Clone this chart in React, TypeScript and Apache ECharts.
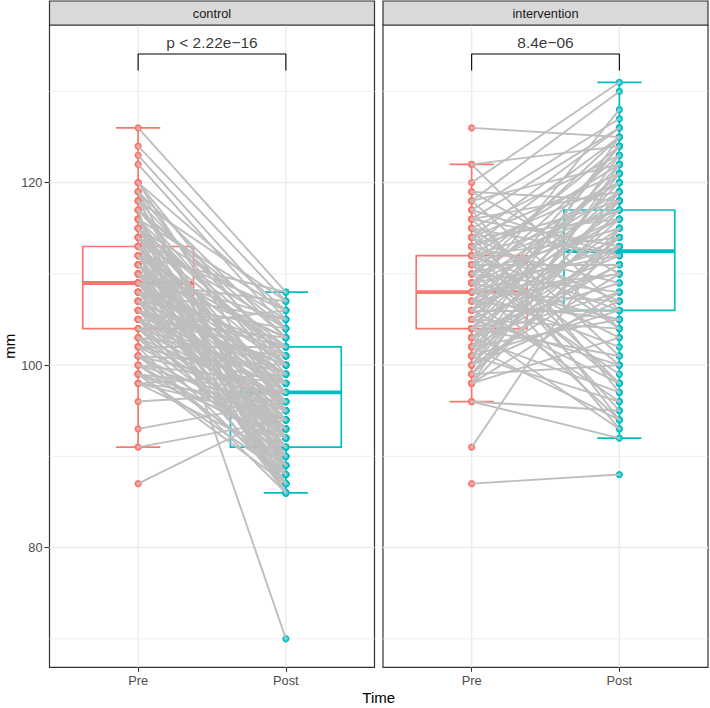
import { useEffect, useRef } from "react";
import * as echarts from "echarts";

// ---- data ----
const timeLabels = ["Pre", "Post"];
const groupNames = ["control", "intervention"];
const pValueLabels = ["p < 2.22e\u221216", "8.4e\u221206"];

const controlPre = [
  126, 124, 123, 122, 120, 120, 119, 119, 118, 118,
  117, 117, 116, 116, 116, 115, 115, 115, 114, 114,
  114, 114, 113, 113, 113, 113, 112, 112, 112, 112,
  111, 111, 111, 111, 110, 110, 110, 110, 110, 109,
  109, 109, 109, 109, 108, 108, 108, 108, 107, 107,
  107, 107, 106, 106, 106, 106, 105, 105, 105, 105,
  104, 104, 104, 104, 103, 103, 103, 102, 102, 102,
  101, 101, 101, 100, 100, 100, 99, 99, 99, 98,
  98, 98, 96, 93, 91, 87, 120, 119, 118, 118,
  117, 116, 116, 115, 115, 114, 113, 113, 112, 112,
  111, 111, 110, 110, 109, 109, 108, 108, 107, 107,
  106, 106, 105, 104, 103, 102, 101, 100, 99, 98,
  117, 115, 113, 111, 109, 107, 105, 103, 101, 99,
];
const controlPost = [
  108, 107, 105, 104, 100, 95, 103, 88, 101, 92,
  70, 99, 106, 90, 86, 102, 97, 87, 104, 96,
  89, 86, 100, 94, 91, 87, 108, 98, 92, 86,
  103, 97, 93, 88, 105, 99, 95, 90, 86, 107,
  101, 97, 91, 87, 102, 98, 94, 89, 104, 96,
  92, 86, 100, 97, 93, 88, 103, 98, 91, 87,
  106, 99, 95, 89, 101, 96, 90, 102, 94, 86,
  100, 93, 88, 98, 95, 91, 97, 92, 87, 99,
  94, 90, 97, 96, 94, 95, 106, 98, 107, 89,
  103, 95, 100, 92, 105, 101, 97, 106, 89, 102,
  95, 100, 92, 103, 94, 99, 87, 105, 100, 90,
  95, 102, 94, 92, 87, 98, 97, 89, 94, 96,
  104, 101, 98, 96, 93, 99, 96, 93, 91, 88,
];
const interventionPre = [
  126, 122, 122, 120, 119, 119, 118, 118, 117, 117,
  116, 116, 116, 115, 115, 115, 114, 114, 114, 114,
  113, 113, 113, 113, 113, 112, 112, 112, 112, 111,
  111, 111, 111, 110, 110, 110, 110, 109, 109, 109,
  109, 109, 108, 108, 108, 108, 108, 107, 107, 107,
  107, 106, 106, 106, 106, 106, 105, 105, 105, 105,
  104, 104, 104, 104, 104, 103, 103, 103, 103, 102,
  102, 102, 102, 101, 101, 101, 101, 100, 100, 100,
  99, 99, 99, 98, 98, 98, 96, 96, 91, 87,
  118, 117, 116, 115, 114, 113, 112, 111, 110, 109,
  108, 107, 106, 105, 104, 103, 102, 101, 100, 99, 98,
];
const interventionPost = [
  125, 124, 106, 131, 110, 118, 130, 104, 127, 97,
  126, 113, 101, 123, 112, 94, 121, 116, 107, 98,
  125, 118, 109, 100, 95, 122, 114, 106, 93, 124,
  117, 111, 103, 120, 115, 108, 99, 123, 119, 112,
  105, 94, 128, 118, 113, 107, 102, 121, 116, 110,
  96, 124, 117, 114, 106, 98, 122, 119, 112, 104,
  120, 115, 109, 101, 93, 118, 113, 108, 97, 125,
  116, 111, 105, 123, 114, 106, 96, 121, 117, 110,
  119, 113, 100, 122, 115, 108, 92, 95, 115, 88,
  122, 112, 119, 104, 126, 120, 117, 98, 125, 116,
  110, 105, 121, 100, 124, 111, 94, 118, 107, 114, 103,
];

// [lower whisker, Q1, median, Q3, upper whisker]
const controlPreBox = [91, 104, 109, 113, 126];
const controlPostBox = [86, 91, 97, 102, 108];
const interventionPreBox = [96, 104, 108, 112, 122];
const interventionPostBox = [92, 106, 112.5, 117, 131];

const yTicks = [80, 100, 120];
const yMinorTicks = [70, 90, 110, 130];

// ---- styling ----
const FONT = '"Liberation Sans", Arial, Helvetica, sans-serif';
const timeColors = ["#F8766D", "#00BFC4"];
const pointFills = ["#FAA49D", "#5CD5D8"];
const Y_MIN = 66.87;
const Y_MAX = 137.28;
const X_MIN = 0.4;
const X_MAX = 2.6;
const PANEL_TOP = 25;
const PANEL_HEIGHT = 642.3;
const PANEL_WIDTH = 325;
const panelLefts = [49.5, 383];
const STRIP_TOP = 1;
const BRACKET_TOP = 134.1;
const BRACKET_LEG = 132.3;
const P_LABEL_Y = 135.35;

const panels = [
  { pre: controlPre, post: controlPost, boxes: [controlPreBox, controlPostBox] },
  { pre: interventionPre, post: interventionPost, boxes: [interventionPreBox, interventionPostBox] },
];

function buildOption(): echarts.EChartsOption {
  const grid: any[] = [];
  const xAxis: any[] = [];
  const yAxis: any[] = [];
  const series: any[] = [];
  const graphic: any[] = [];

  panels.forEach((panel, g) => {
    const left = panelLefts[g];
    grid.push({
      left,
      top: PANEL_TOP,
      width: PANEL_WIDTH,
      height: PANEL_HEIGHT,
      show: true,
      backgroundColor: "#FFFFFF",
      borderColor: "#333333",
      borderWidth: 1.2,
      containLabel: false,
    });
    xAxis.push({
      type: "value",
      gridIndex: g,
      min: X_MIN,
      max: X_MAX,
      axisLine: { show: false },
      splitLine: { show: false },
      axisTick: {
        show: true,
        customValues: [1, 2],
        length: 4.5,
        lineStyle: { color: "#333333", width: 1.1 },
      },
      axisLabel: {
        show: true,
        customValues: [1, 2],
        formatter: (v: number) => timeLabels[Math.round(v) - 1] ?? "",
        color: "#4D4D4D",
        fontSize: 12.8,
        fontFamily: FONT,
        margin: 7,
      },
    });
    yAxis.push({
      type: "value",
      gridIndex: g,
      min: Y_MIN,
      max: Y_MAX,
      axisLine: { show: false },
      splitLine: { show: false },
      axisTick: {
        show: g === 0,
        customValues: yTicks,
        length: 5,
        lineStyle: { color: "#333333", width: 1.1 },
      },
      axisLabel: {
        show: g === 0,
        customValues: yTicks,
        color: "#4D4D4D",
        fontSize: 12.8,
        fontFamily: FONT,
        margin: 7,
      },
    });

    // panel grid lines
    series.push({
      type: "custom",
      xAxisIndex: g,
      yAxisIndex: g,
      silent: true,
      z: 1,
      data: [[1.5, 100]],
      renderItem: (params: any, api: any) => {
        const cs = params.coordSys;
        const children: any[] = [];
        const hLine = (v: number, w: number) => {
          const y = api.coord([1, v])[1];
          children.push({
            type: "line",
            shape: { x1: cs.x, y1: y, x2: cs.x + cs.width, y2: y },
            style: { stroke: "#EBEBEB", lineWidth: w },
          });
        };
        yMinorTicks.forEach((v) => hLine(v, 0.8));
        yTicks.forEach((v) => hLine(v, 1.4));
        [1, 2].forEach((xv) => {
          const x = api.coord([xv, 100])[0];
          children.push({
            type: "line",
            shape: { x1: x, y1: cs.y, x2: x, y2: cs.y + cs.height },
            style: { stroke: "#EBEBEB", lineWidth: 1.4 },
          });
        });
        return { type: "group", children };
      },
    });

    // box plots
    series.push({
      type: "custom",
      xAxisIndex: g,
      yAxisIndex: g,
      silent: true,
      z: 2,
      encode: { x: 0, y: [1, 2, 3, 4, 5] },
      data: panel.boxes.map((b, i) => [i + 1, ...b]),
      renderItem: (params: any, api: any) => {
        const xv = api.value(0);
        const lo = api.value(1);
        const q1 = api.value(2);
        const med = api.value(3);
        const q3 = api.value(4);
        const hi = api.value(5);
        const color = timeColors[params.dataIndex];
        const [xl, yq3] = api.coord([xv - 0.375, q3]);
        const [xr, yq1] = api.coord([xv + 0.375, q1]);
        const cx = api.coord([xv, med])[0];
        const ymed = api.coord([xv, med])[1];
        const yhi = api.coord([xv, hi])[1];
        const ylo = api.coord([xv, lo])[1];
        const capL = api.coord([xv - 0.15, med])[0];
        const capR = api.coord([xv + 0.15, med])[0];
        const st = { stroke: color, lineWidth: 1.7, fill: "none" };
        return {
          type: "group",
          children: [
            { type: "line", shape: { x1: cx, y1: yq3, x2: cx, y2: yhi }, style: st },
            { type: "line", shape: { x1: cx, y1: yq1, x2: cx, y2: ylo }, style: st },
            { type: "line", shape: { x1: capL, y1: yhi, x2: capR, y2: yhi }, style: st },
            { type: "line", shape: { x1: capL, y1: ylo, x2: capR, y2: ylo }, style: st },
            {
              type: "rect",
              shape: { x: xl, y: yq3, width: xr - xl, height: yq1 - yq3 },
              style: { fill: "#FFFFFF", stroke: color, lineWidth: 1.7 },
            },
            {
              type: "line",
              shape: { x1: xl, y1: ymed, x2: xr, y2: ymed },
              style: { stroke: color, lineWidth: 3.8 },
            },
          ],
        };
      },
    });

    // individual observations
    [panel.pre, panel.post].forEach((vals, t) => {
      series.push({
        type: "scatter",
        xAxisIndex: g,
        yAxisIndex: g,
        silent: true,
        z: 3,
        symbol: "circle",
        symbolSize: 5.5,
        itemStyle: { color: pointFills[t], borderColor: timeColors[t], borderWidth: 1.7, opacity: 1 },
        data: vals.map((v) => [t + 1, v]),
      });
    });

    // paired connections
    series.push({
      type: "lines",
      coordinateSystem: "cartesian2d",
      xAxisIndex: g,
      yAxisIndex: g,
      silent: true,
      z: 4,
      lineStyle: { color: "#BEBEBE", width: 1.9, opacity: 1 },
      data: panel.pre.map((v, i) => ({ coords: [[1, v], [2, panel.post[i]]] })),
    });

    // comparison bracket and p-value
    series.push({
      type: "line",
      xAxisIndex: g,
      yAxisIndex: g,
      silent: true,
      z: 5,
      symbol: "none",
      lineStyle: { color: "#000000", width: 1.1 },
      data: [
        [1, BRACKET_LEG],
        [1, BRACKET_TOP],
        [2, BRACKET_TOP],
        [2, BRACKET_LEG],
      ],
    });
    series.push({
      type: "scatter",
      xAxisIndex: g,
      yAxisIndex: g,
      silent: true,
      z: 5,
      symbolSize: 0,
      data: [[1.5, P_LABEL_Y]],
      label: {
        show: true,
        position: "inside",
        formatter: () => pValueLabels[g],
        color: "#000000",
        fontSize: 15.5,
        fontFamily: FONT,
        align: "center",
        verticalAlign: "middle",
      },
    });

    // facet strip
    graphic.push({
      type: "rect",
      shape: { x: left, y: STRIP_TOP, width: PANEL_WIDTH, height: PANEL_TOP - STRIP_TOP },
      style: { fill: "#D9D9D9", stroke: "#333333", lineWidth: 1.2 },
      z: 10,
    });
    graphic.push({
      type: "text",
      x: left + PANEL_WIDTH / 2,
      y: (STRIP_TOP + PANEL_TOP) / 2,
      style: {
        text: groupNames[g],
        fill: "#1A1A1A",
        font: `12.8px ${FONT}`,
        align: "center",
        verticalAlign: "middle",
      },
      z: 11,
    });
  });

  // axis titles
  graphic.push({
    type: "text",
    x: (panelLefts[0] + panelLefts[1] + PANEL_WIDTH) / 2,
    y: 697.7,
    style: { text: "Time", fill: "#000000", font: `15px ${FONT}`, align: "center", verticalAlign: "middle" },
    z: 11,
  });
  graphic.push({
    type: "text",
    x: 9,
    y: PANEL_TOP + PANEL_HEIGHT / 2,
    rotation: Math.PI / 2,
    style: { text: "mm", fill: "#000000", font: `15px ${FONT}`, align: "center", verticalAlign: "middle" },
    z: 11,
  });

  return {
    animation: false,
    backgroundColor: "#FFFFFF",
    textStyle: { fontFamily: FONT },
    grid,
    xAxis,
    yAxis,
    series,
    graphic,
  };
}

export default function App() {
  const ref = useRef<HTMLDivElement>(null);
  useEffect(() => {
    if (!ref.current) return;
    const chart = echarts.init(ref.current, null, { renderer: "svg" });
    chart.setOption(buildOption());
    return () => chart.dispose();
  }, []);
  return (
    <div
      ref={ref}
      style={{ position: "fixed", left: 0, top: 0, width: 710, height: 708, background: "#FFFFFF" }}
    />
  );
}
